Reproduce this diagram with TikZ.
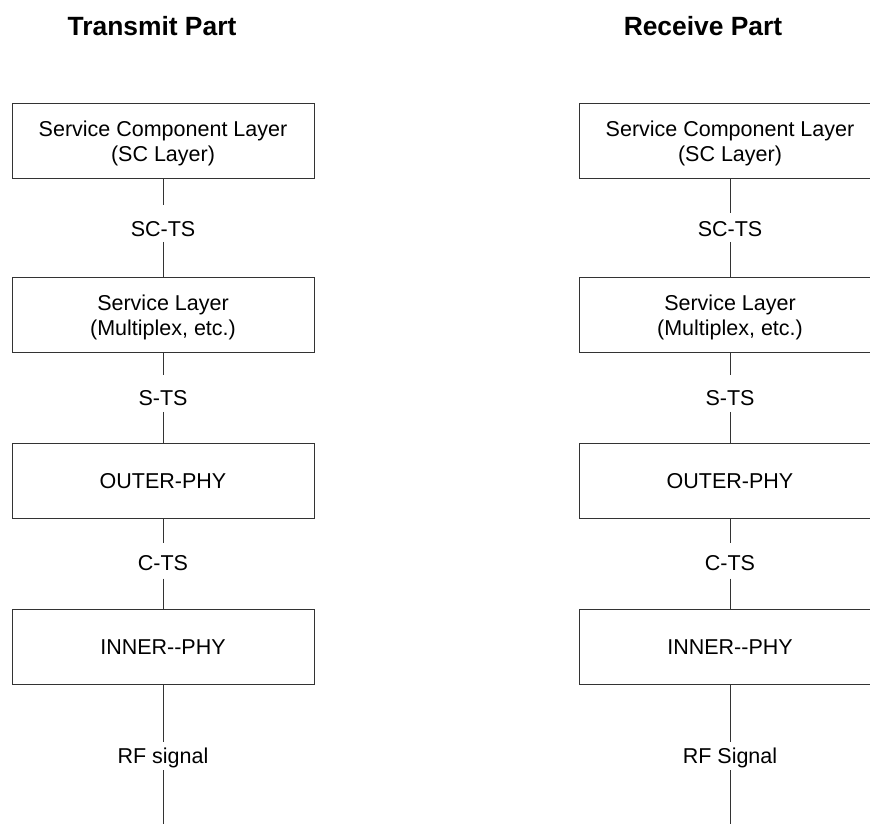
\documentclass[tikz,border=0pt]{standalone}
\usepackage{fontspec}
\setmainfont{Liberation Sans}
\newcommand{\toppad}{\rule{0pt}{21.5pt}}
\begin{document}
\begin{tikzpicture}[x=1pt,y=-1pt,
  line/.style={draw=black!80,line width=0.9pt},
  layerbox/.style={line,rectangle,minimum width=302pt,minimum height=75pt,inner sep=0pt,
    align=center,font={\fontsize{21.5}{25}\selectfont}},
  twoline/.style={layerbox},
  oneline/.style={layerbox,text height=14.6pt,text depth=0pt},
  iflabel/.style={inner sep=0pt,anchor=base,font={\fontsize{21.5}{25}\selectfont}},
  title/.style={anchor=base,font={\fontsize{26.4}{30}\selectfont\bfseries}}]
\path[use as bounding box] (0,0) rectangle (870,824);
\clip (0,0) rectangle (870,824);

% titles
\node[title] (ttx) at (152,36) {Transmit Part};
\node[title] (trx) at (703,36) {Receive Part};

% transmit column
\node[twoline] (tsc) at (163,140.8) {\toppad Service Component Layer\\(SC Layer)};
\node[twoline] (ts)  at (163,314.5) {\toppad Service Layer\\(Multiplex, etc.)};
\node[oneline] (tout) at (163,481.2) {OUTER-PHY};
\node[oneline] (tin)  at (163,647.3) {INNER-\kern0pt-PHY};

\node[iflabel,text height=31.7pt,text depth=5pt] (tscts) at (163,236.7) {SC-TS};
\node[iflabel,text height=30.7pt,text depth=6pt] (tsts) at (163,405.7) {S-TS};
\node[iflabel,text height=27.4pt,text depth=7.6pt] (tcts) at (163,570.7) {C-TS};
\node[iflabel,text height=21.6pt,text depth=6.7pt] (trf) at (163,763.3) {RF signal};
\coordinate (tend) at (163,830);

\draw[line] (tsc.south) -- (tscts.north) (tscts.south) -- (ts.north);
\draw[line] (ts.south) -- (tsts.north) (tsts.south) -- (tout.north);
\draw[line] (tout.south) -- (tcts.north) (tcts.south) -- (tin.north);
\draw[line] (tin.south) -- (trf.north) (trf.south) -- (tend);

% receive column
\node[twoline] (rsc) at (730,140.8) {\toppad Service Component Layer\\(SC Layer)};
\node[twoline] (rs)  at (730,314.5) {\toppad Service Layer\\(Multiplex, etc.)};
\node[oneline] (rout) at (730,481.2) {OUTER-PHY};
\node[oneline] (rin)  at (730,647.3) {INNER-\kern0pt-PHY};

\node[iflabel,text height=23.4pt,text depth=5pt] (rscts) at (730,236.7) {SC-TS};
\node[iflabel,text height=30.7pt,text depth=6pt] (rsts) at (730,405.7) {S-TS};
\node[iflabel,text height=27.4pt,text depth=7.6pt] (rcts) at (730,570.7) {C-TS};
\node[iflabel,text height=21.6pt,text depth=6.7pt] (rrf) at (730,763.3) {RF Signal};
\coordinate (rend) at (730,830);

\draw[line] (rsc.south) -- (rscts.north) (rscts.south) -- (rs.north);
\draw[line] (rs.south) -- (rsts.north) (rsts.south) -- (rout.north);
\draw[line] (rout.south) -- (rcts.north) (rcts.south) -- (rin.north);
\draw[line] (rin.south) -- (rrf.north) (rrf.south) -- (rend);
\end{tikzpicture}
\end{document}
